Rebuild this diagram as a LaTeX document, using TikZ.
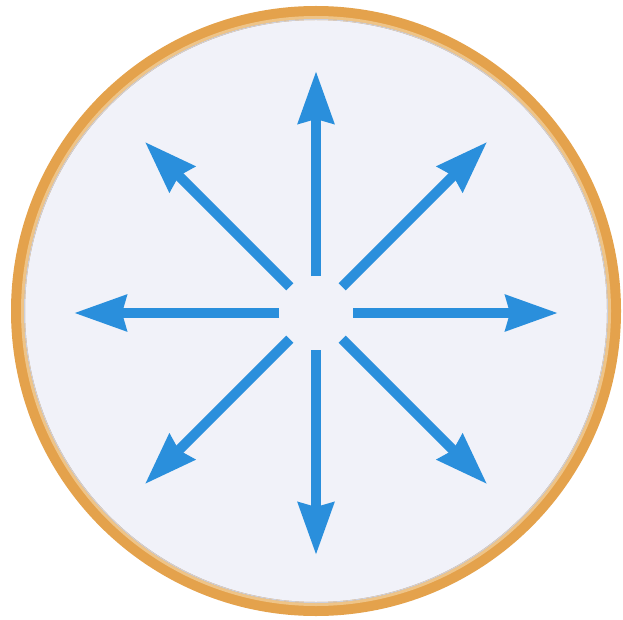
\documentclass[tikz,border=0pt]{standalone}
\usepackage{xcolor}
\usepackage{tikz}
\usetikzlibrary{arrows.meta,positioning,calc}

\definecolor{rayblue}{HTML}{2A8FDC}
\definecolor{rimgold}{HTML}{E4A24C}
\definecolor{rimlight}{HTML}{EEC488}
\definecolor{dishfill}{HTML}{F1F2F9}
\definecolor{dishedge}{HTML}{CDD0DB}

\begin{document}
\begin{tikzpicture}[
    x=1pt, y=-1pt,
    dish/.style={circle, draw=rimgold, line width=14pt, fill=dishfill, minimum size=596pt, inner sep=0pt},
    ray/.style={-{Stealth[length=52pt, width=35pt, inset=4pt]}, line width=10pt, draw=rayblue}
]
    \useasboundingbox (0,0) rectangle (623,620);

    % dish with golden rim
    \node[dish] (dish) at (316,311) {};
    \draw[rimlight, line width=3pt] (dish.center) circle (293.5pt);
    \draw[dishedge, line width=1pt] (dish.center) circle (291.5pt);
    \coordinate (c) at (316,313);

    % eight rays
    \foreach \a [count=\i] in {0,45,...,315} {
        \coordinate (s\i) at ($(c)+(-\a:37)$);
        \coordinate (t\i) at ($(c)+(-\a:242)$);
        \draw[ray] (s\i) -- (t\i);
    }
\end{tikzpicture}
\end{document}
